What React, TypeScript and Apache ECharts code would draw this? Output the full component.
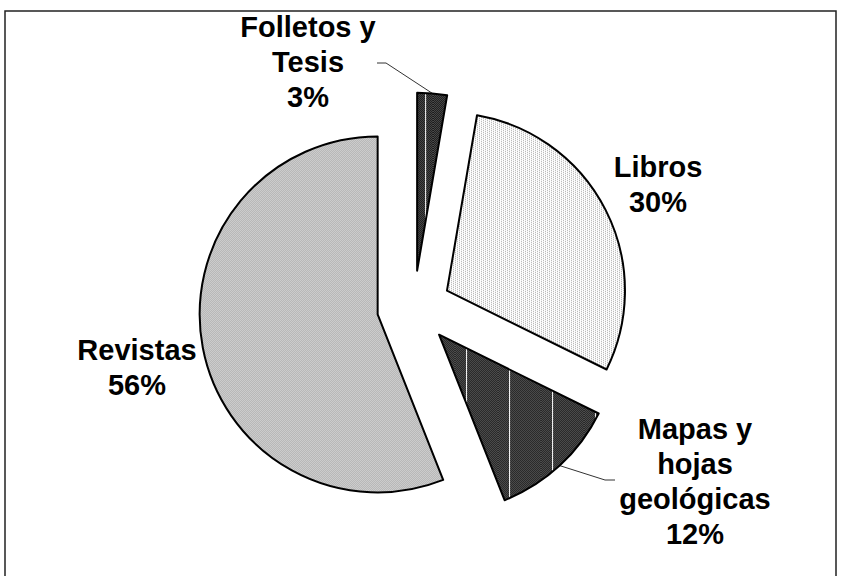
import React, { useEffect, useRef } from 'react';
import * as echarts from 'echarts';

// Data
const categories = ['Folletos y\nTesis', 'Libros', 'Mapas y\nhojas\ngeológicas', 'Revistas'];
const values = [2.7, 29.6, 11.7, 56.0];

// Layout
const CENTER = [414, 307.5];
const RADIUS = 178;
const OFFSET = 37;
const labelCenters: number[][] = [[308, 62], [658, 184], [695, 481], [137, 367]];
// leader-line elbow and end (null = no leader)
const leaders: (number[][] | null)[] = [[[386, 63], [377, 63]], null, [[605, 480], [615, 480]], null];

function makeCanvas(w: number, h: number, draw: (ctx: CanvasRenderingContext2D) => void) {
  const c = document.createElement('canvas');
  c.width = w;
  c.height = h;
  const ctx = c.getContext('2d')!;
  draw(ctx);
  return c;
}

function checker(ctx: CanvasRenderingContext2D, w: number, h: number, base: string, dot: string) {
  ctx.fillStyle = base;
  ctx.fillRect(0, 0, w, h);
  ctx.fillStyle = dot;
  for (let y = 0; y < h; y++) {
    for (let x = 0; x < w; x++) {
      if ((x + y) % 2 === 0) ctx.fillRect(x, y, 1, 1);
    }
  }
}

export default function App() {
  const ref = useRef<HTMLDivElement>(null);
  useEffect(() => {
    document.body.style.margin = '0';
    const chart = echarts.init(ref.current!, undefined, { renderer: 'svg' });

    const revistasPat = makeCanvas(2, 2, (ctx) => checker(ctx, 2, 2, '#e8e8e8', '#9c9c9c'));
    const librosPat = makeCanvas(4, 4, (ctx) => {
      ctx.fillStyle = '#ffffff';
      ctx.fillRect(0, 0, 4, 4);
      ctx.fillStyle = '#a8a8a8';
      ctx.fillRect(0, 0, 1, 1);
      ctx.fillRect(2, 1, 1, 1);
      ctx.fillRect(0, 2, 1, 1);
      ctx.fillRect(2, 3, 1, 1);
    });
    const mapasPat = makeCanvas(43, 2, (ctx) => {
      checker(ctx, 43, 2, '#1a1a1a', '#5a5a5a');
      ctx.fillStyle = '#ffffff';
      ctx.fillRect(11, 0, 1, 2);
    });
    const folletosPat = makeCanvas(43, 2, (ctx) => {
      checker(ctx, 43, 2, '#111111', '#555555');
      ctx.fillStyle = '#ffffff';
      ctx.fillRect(35, 0, 1, 2);
    });
    const patterns = [folletosPat, librosPat, mapasPat, revistasPat];

    const total = values.reduce((a, b) => a + b, 0);

    const data = categories.map((name, i) => ({
      name,
      value: values[i],
      selected: true,
      itemStyle: { color: { image: patterns[i], repeat: 'repeat' } as any },
    }));

    // labels & leader lines derived from data
    const graphics: any[] = [
      {
        type: 'rect',
        shape: { x: 5, y: 11, width: 831, height: 590 },
        style: { fill: 'none', stroke: '#222', lineWidth: 1.5 },
        silent: true,
      },
    ];
    let cum = 0;
    values.forEach((v, i) => {
      const mid = ((cum + v / 2) / total) * 2 * Math.PI;
      cum += v;
      const pct = Math.round((v / total) * 100);
      const [lx, ly] = labelCenters[i];
      graphics.push({
        type: 'text',
        x: lx,
        y: ly,
        silent: true,
        style: {
          text: `${categories[i]}\n${pct}%`,
          align: 'center',
          verticalAlign: 'middle',
          font: 'bold 29px "Liberation Sans", Arial, sans-serif',
          lineHeight: 35,
          fill: '#000',
        },
      });
      const ld = leaders[i];
      if (ld) {
        const rr = RADIUS + OFFSET;
        const ax = CENTER[0] + rr * Math.sin(mid);
        const ay = CENTER[1] - rr * Math.cos(mid);
        graphics.push({
          type: 'polyline',
          silent: true,
          shape: { points: [[ax, ay], ...ld] },
          style: { stroke: '#333', lineWidth: 1, fill: 'none' },
        });
      }
    });

    chart.setOption({
      animation: false,
      graphic: graphics,
      series: [
        {
          type: 'pie',
          center: CENTER,
          radius: RADIUS,
          startAngle: 90,
          clockwise: true,
          selectedMode: 'multiple',
          selectedOffset: OFFSET,
          avoidLabelOverlap: false,
          silent: true,
          emphasis: { disabled: true },
          itemStyle: { borderColor: '#000', borderWidth: 2 },
          select: { itemStyle: { borderColor: '#000', borderWidth: 2 } },
          label: { show: false },
          labelLine: { show: false },
          data,
        },
      ],
    });
    return () => chart.dispose();
  }, []);
  return <div ref={ref} style={{ width: 841, height: 576 }} />;
}
